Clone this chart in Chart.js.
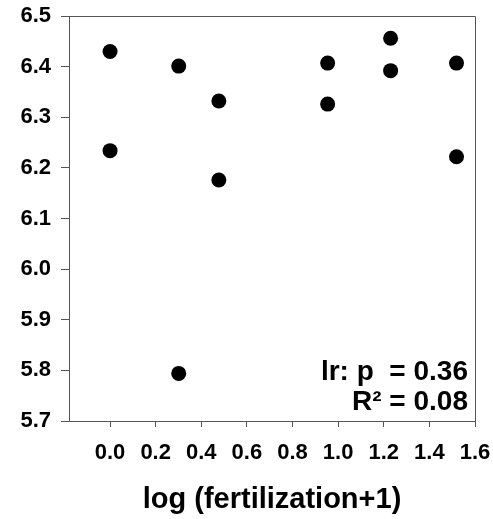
<!DOCTYPE html>
<html>
<head>
<meta charset="utf-8">
<script src="https://cdn.jsdelivr.net/npm/chart.js@4/dist/chart.umd.min.js"></script>
<style>
  html, body { margin: 0; padding: 0; background: #fff; }
  #wrap { width: 493px; height: 519px; }
</style>
</head>
<body>
<div id="wrap"><canvas id="chart" width="493" height="519"></canvas></div>
<script>
const xValues = [0, 0, 0.301, 0.301, 0.477, 0.477, 0.954, 0.954, 1.23, 1.23, 1.519, 1.519];
const yValues = [6.43, 6.234, 6.401, 5.794, 6.332, 6.176, 6.407, 6.326, 6.456, 6.392, 6.407, 6.222];

const xTicks = [0.0, 0.2, 0.4, 0.6, 0.8, 1.0, 1.2, 1.4, 1.6];
const yTicks = [5.7, 5.8, 5.9, 6.0, 6.1, 6.2, 6.3, 6.4, 6.5];

const statLines = ['lr: p  = 0.36', 'R\u00b2 = 0.08'];

const FONT = "'Liberation Sans', Arial, sans-serif";
const AXIS = '#555';

const points = xValues.map((x, i) => ({ x: x, y: yValues[i] }));

// top/right frame plus the regression text
const framePlugin = {
    id: 'frame',
    afterDraw(chart) {
        const ctx = chart.ctx;
        const a = chart.chartArea;
        ctx.save();
        ctx.strokeStyle = AXIS;
        ctx.lineWidth = 1;
        ctx.beginPath();
        ctx.moveTo(a.left, a.top + 0.5);
        ctx.lineTo(a.right + 0.5, a.top + 0.5);
        ctx.lineTo(a.right + 0.5, a.bottom);
        ctx.stroke();

        ctx.fillStyle = '#000';
        ctx.font = 'bold 28px ' + FONT;
        ctx.textAlign = 'right';
        ctx.textBaseline = 'alphabetic';
        ctx.fillText(statLines[0], a.right - 7, a.bottom - 41);
        ctx.fillText(statLines[1], a.right - 7, a.bottom - 11);
        ctx.restore();
    }
};

new Chart(document.getElementById('chart').getContext('2d'), {
    type: 'scatter',
    data: {
        datasets: [{
            data: points,
            backgroundColor: '#000',
            borderWidth: 0,
            pointRadius: 7.5,
            pointHoverRadius: 7.5
        }]
    },
    options: {
        responsive: false,
        animation: false,
        layout: { padding: { top: 16, right: 18, left: 0, bottom: 0 } },
        plugins: {
            legend: { display: false },
            tooltip: { enabled: false }
        },
        scales: {
            x: {
                type: 'linear',
                min: -0.18,
                max: 1.6,
                afterBuildTicks: s => { s.ticks = xTicks.map(v => ({ value: v })); },
                afterFit: s => { s.height = 98; s.paddingLeft = 0; s.paddingRight = 0; },
                ticks: {
                    color: '#000',
                    font: { family: FONT, size: 22, weight: 'bold' },
                    padding: 13,
                    maxRotation: 0,
                    callback: v => Number(v).toFixed(1)
                },
                grid: { drawOnChartArea: false, drawTicks: true, tickLength: 6, color: AXIS },
                border: { color: AXIS },
                title: {
                    display: true,
                    text: 'log (fertilization+1)',
                    color: '#000',
                    font: { family: FONT, size: 29, weight: 'bold' },
                    padding: { top: 0, bottom: 2 }
                }
            },
            y: {
                type: 'linear',
                min: 5.7,
                max: 6.5,
                afterBuildTicks: s => { s.ticks = yTicks.map(v => ({ value: v })); },
                afterFit: s => { s.width = 69; s.paddingTop = 0; s.paddingBottom = 0; },
                ticks: {
                    color: '#000',
                    font: { family: FONT, size: 22, weight: 'bold' },
                    padding: 10,
                    callback: v => Number(v).toFixed(1)
                },
                grid: { drawOnChartArea: false, drawTicks: true, tickLength: 8, color: AXIS },
                border: { color: AXIS }
            }
        }
    },
    plugins: [framePlugin]
});
</script>
</body>
</html>
